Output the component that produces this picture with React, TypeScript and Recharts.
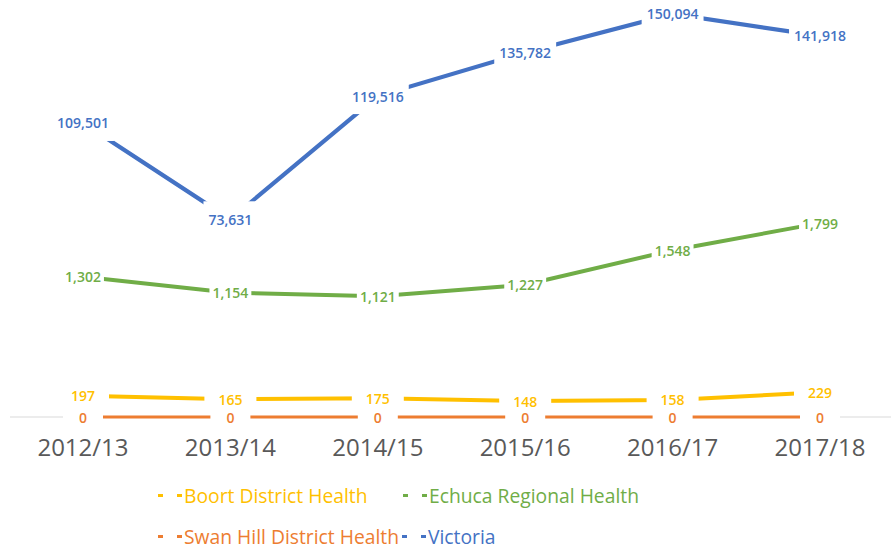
import { LineChart, Line, XAxis, YAxis, Legend, LabelList } from 'recharts';

const years = ['2012/13', '2013/14', '2014/15', '2015/16', '2016/17', '2017/18'];
const boort = [197, 165, 175, 148, 158, 229];
const echuca = [1302, 1154, 1121, 1227, 1548, 1799];
const swanHill = [0, 0, 0, 0, 0, 0];
const victoria = [109501, 73631, 119516, 135782, 150094, 141918];

const data = years.map((year, i) => ({
  year,
  boort: boort[i],
  echuca: echuca[i],
  swanHill: swanHill[i],
  victoria: victoria[i],
}));

const FONT = '"Open Sans", "Noto Sans", sans-serif';

const series = [
  { key: 'boort', name: 'Boort District Health', color: '#FFC000', width: 4, axis: 'left', padX: 14, halfH: 9 },
  { key: 'echuca', name: 'Echuca Regional Health', color: '#70AD47', width: 4, axis: 'left', padX: 3, halfH: 9 },
  { key: 'swanHill', name: 'Swan Hill District Health', color: '#ED7D31', width: 2.8, axis: 'left', padX: 16, halfH: 6 },
  { key: 'victoria', name: 'Victoria', color: '#4472C4', width: 4.2, axis: 'right', padX: 5, halfH: 18 },
];

const fmt = (v: number) => v.toLocaleString('en-US');

// label sits on the point with a white box that cuts the line, like Excel does
const makeLabel = (color: string, padX: number, halfH: number) => (props: any) => {
  const { x, y, value } = props;
  const text = fmt(Number(value));
  const digits = text.replace(/,/g, '').length;
  const commas = text.length - digits;
  const tw = digits * 8 + commas * 3.9;
  const halfW = tw / 2 + padX;
  return (
    <g>
      <rect x={x - halfW} y={y - halfH} width={halfW * 2} height={halfH * 2} fill="#ffffff" />
      <text
        x={x}
        y={y}
        textAnchor="middle"
        dominantBaseline="central"
        fill={color}
        fontFamily={FONT}
        fontSize={14}
        fontWeight={600}
      >
        {text}
      </text>
    </g>
  );
};

const legendPos = [
  { left: 158, top: 0 },
  { left: 403, top: 0 },
  { left: 158, top: 41 },
  { left: 402, top: 41 },
];

const CustomLegend = () => (
  <div style={{ position: 'relative', width: 891, height: 74, fontFamily: FONT, fontSize: 19.3 }}>
    {series.map((s, i) => (
      <div
        key={s.key}
        style={{
          position: 'absolute',
          left: legendPos[i].left,
          top: legendPos[i].top,
          height: 41,
          lineHeight: '41px',
          color: s.color,
          whiteSpace: 'nowrap',
          display: 'flex',
          alignItems: 'center',
        }}
      >
        <span style={{ display: 'inline-block', width: 5, height: 3, background: s.color }} />
        <span style={{ display: 'inline-block', width: 5, height: 3, background: s.color, marginLeft: 14, marginRight: 2 }} />
        <span>{s.name}</span>
      </div>
    ))}
  </div>
);

export default function App() {
  return (
    <div style={{ position: 'absolute', left: 0, top: 0, width: 891, height: 549, background: '#fff' }}>
      <LineChart width={891} height={549} data={data} margin={{ top: 0, right: 0, left: 10, bottom: 0 }}>
        <XAxis
          dataKey="year"
          height={58}
          padding={{ left: 73, right: 71 }}
          axisLine={{ stroke: '#D9D9D9', strokeWidth: 1 }}
          tickLine={false}
          tickMargin={16}
          tick={{ fill: '#595959', fontSize: 24, fontFamily: FONT }}
          interval={0}
          zIndex={100}
        />
        <YAxis yAxisId="left" hide domain={[0, 3870]} />
        <YAxis yAxisId="right" orientation="right" hide domain={[0, 155300]} />
        <Legend verticalAlign="bottom" content={<CustomLegend />} wrapperStyle={{ left: 0, width: 891 }} />
        {series.map(s => (
          <Line
            key={s.key}
            yAxisId={s.axis}
            dataKey={s.key}
            name={s.name}
            type="linear"
            stroke={s.color}
            strokeWidth={s.width}
            dot={false}
            activeDot={false}
            isAnimationActive={false}
          >
            <LabelList dataKey={s.key} content={makeLabel(s.color, s.padX, s.halfH)} />
          </Line>
        ))}
      </LineChart>
    </div>
  );
}
